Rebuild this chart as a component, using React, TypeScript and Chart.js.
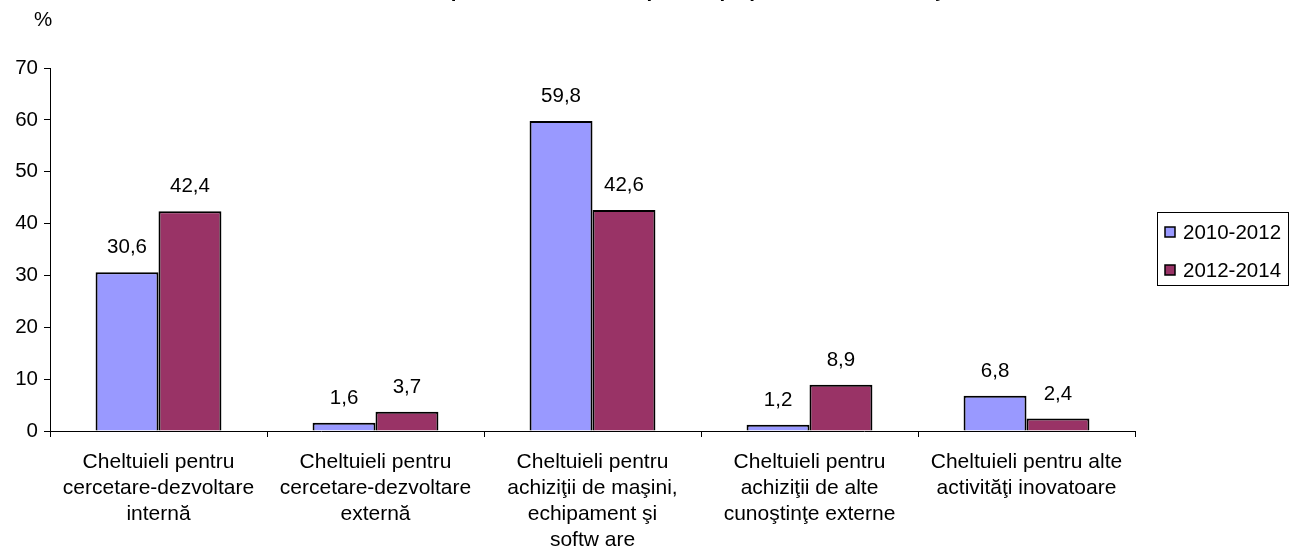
import React, { useEffect, useRef } from "react";
import { Chart, registerables } from "chart.js";

Chart.register(...registerables);

const categories: string[][] = [
  ["Cheltuieli pentru", "cercetare-dezvoltare", "internă"],
  ["Cheltuieli pentru", "cercetare-dezvoltare", "externă"],
  ["Cheltuieli pentru", "achiziţii de maşini,", "echipament şi", "softw are"],
  ["Cheltuieli pentru", "achiziţii de alte", "cunoştinţe externe"],
  ["Cheltuieli pentru alte", "activităţi inovatoare"],
];
const seriesNames = ["2010-2012", "2012-2014"];
const seriesColors = ["#9999FF", "#993366"];
const values2010 = [30.6, 1.6, 59.8, 1.2, 6.8];
const values2012 = [42.4, 3.7, 42.6, 8.9, 2.4];
const yMin = 0;
const yMax = 70;
const yStep = 10;
const unitLabel = "%";
const titleText = "Structura cheltuielilor pentru inovare, comparativ pe perioade de referinţă";

const FONT = "'Liberation Sans', Arial, Helvetica, sans-serif";
const FS = 20.5;
const FS_CAT = 21;

const fmt = (v: number) => v.toFixed(1).replace(".", ",");

const dataLabelPlugin = {
  id: "dataLabels",
  afterDatasetsDraw(chart: any) {
    const ctx = chart.ctx;
    ctx.save();
    ctx.font = `${FS}px ${FONT}`;
    ctx.fillStyle = "#000";
    ctx.textAlign = "center";
    ctx.textBaseline = "alphabetic";
    chart.data.datasets.forEach((ds: any, i: number) => {
      const meta = chart.getDatasetMeta(i);
      meta.data.forEach((bar: any, j: number) => {
        ctx.fillText(fmt(ds.data[j]), bar.x, bar.y - 19);
      });
    });
    ctx.restore();
  },
};

const extrasPlugin = {
  id: "extras",
  afterDraw(chart: any) {
    const ctx = chart.ctx;
    const area = chart.chartArea;
    ctx.save();
    // unit label
    ctx.font = `${FS}px ${FONT}`;
    ctx.fillStyle = "#000";
    ctx.textAlign = "center";
    ctx.textBaseline = "alphabetic";
    ctx.fillText(unitLabel, 43, 26);
    // clipped title
    ctx.font = `bold ${FS}px ${FONT}`;
    ctx.fillText(titleText, (area.left + area.right) / 2, -3);
    // legend box
    const lx = 1157.5;
    const ly = 212.5;
    const lw = 131;
    const lh = 73;
    ctx.strokeStyle = "#000";
    ctx.lineWidth = 1;
    ctx.strokeRect(lx, ly, lw, lh);
    ctx.font = `${FS}px ${FONT}`;
    ctx.textAlign = "left";
    ctx.textBaseline = "middle";
    chart.data.datasets.forEach((ds: any, i: number) => {
      const cy = 232 + i * 38;
      ctx.fillStyle = ds.backgroundColor;
      ctx.fillRect(1165, cy - 5, 10, 10);
      ctx.lineWidth = 1.5;
      ctx.strokeStyle = "#000";
      ctx.strokeRect(1165, cy - 5, 10, 10);
      ctx.fillStyle = "#000";
      ctx.fillText(ds.label, 1183, cy + 1);
    });
    ctx.restore();
  },
};

function BarChart() {
  const ref = useRef<HTMLCanvasElement | null>(null);
  useEffect(() => {
    if (!ref.current) return;
    const chart = new Chart(ref.current, {
      type: "bar",
      data: {
        labels: categories,
        datasets: [
          {
            label: seriesNames[0],
            data: values2010,
            backgroundColor: seriesColors[0],
            borderColor: "#000",
            borderWidth: 2,
            categoryPercentage: 0.58,
            barPercentage: 1,
          },
          {
            label: seriesNames[1],
            data: values2012,
            backgroundColor: seriesColors[1],
            borderColor: "#000",
            borderWidth: 2,
            categoryPercentage: 0.58,
            barPercentage: 1,
          },
        ],
      },
      options: {
        responsive: true,
        maintainAspectRatio: false,
        animation: false,
        layout: { padding: { left: 0, right: 154, top: 68, bottom: 0 } },
        plugins: {
          legend: { display: false },
          title: { display: false },
          tooltip: { enabled: false },
        },
        scales: {
          x: {
            afterFit(scale: any) {
              scale.height = 125;
            },
            grid: {
              offset: true,
              drawOnChartArea: false,
              drawTicks: true,
              tickLength: 6,
              color: "#000",
            },
            border: { color: "#000", width: 1 },
            ticks: {
              color: "#000",
              font: { family: FONT, size: FS_CAT, lineHeight: 26 / FS_CAT },
              padding: 12,
              maxRotation: 0,
              autoSkip: false,
            },
          },
          y: {
            min: yMin,
            max: yMax,
            afterFit(scale: any) {
              scale.width = 50;
            },
            grid: {
              drawOnChartArea: false,
              drawTicks: true,
              tickLength: 6,
              color: "#000",
            },
            border: { color: "#000", width: 1 },
            ticks: {
              stepSize: yStep,
              color: "#000",
              font: { family: FONT, size: FS },
              padding: 6,
            },
          },
        },
      },
      plugins: [dataLabelPlugin, extrasPlugin],
    });
    return () => chart.destroy();
  }, []);
  return <canvas ref={ref} />;
}

export default function App() {
  return (
    <div
      style={{
        position: "absolute",
        left: 0,
        top: 0,
        width: 1289,
        height: 556,
        background: "#fff",
      }}
    >
      <BarChart />
    </div>
  );
}
